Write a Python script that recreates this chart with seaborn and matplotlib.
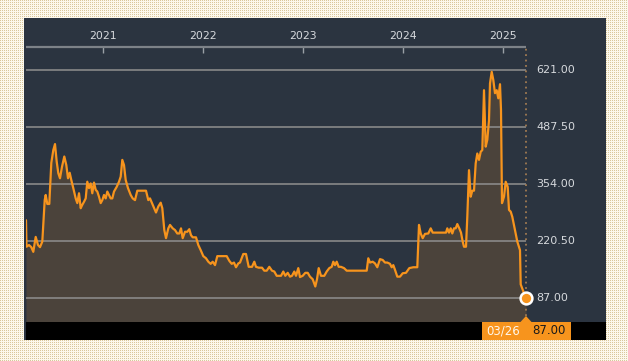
import numpy as np
import pandas as pd
import matplotlib
matplotlib.use("Agg")
import matplotlib.pyplot as plt
import seaborn as sns
from matplotlib.patches import Rectangle, Polygon

# ---------------- data (decimal years, price) ----------------
years = [
    2020.233, 2020.238, 2020.263, 2020.286, 2020.306, 2020.330, 2020.353, 2020.373, 2020.396, 2020.420,
    2020.430, 2020.446, 2020.466, 2020.486, 2020.506, 2020.523, 2020.540, 2020.556, 2020.573, 2020.593,
    2020.616, 2020.636, 2020.653, 2020.670, 2020.686, 2020.706, 2020.730, 2020.746, 2020.763, 2020.780,
    2020.796, 2020.813, 2020.830, 2020.846, 2020.863, 2020.880, 2020.896, 2020.913, 2020.930, 2020.946,
    2020.963, 2020.980, 2020.996, 2021.013, 2021.030, 2021.046, 2021.063, 2021.080, 2021.096, 2021.113,
    2021.140, 2021.163, 2021.180, 2021.196, 2021.213, 2021.230, 2021.253, 2021.280, 2021.300, 2021.323,
    2021.346, 2021.433, 2021.456, 2021.473, 2021.500, 2021.533, 2021.556, 2021.580, 2021.596, 2021.616,
    2021.633, 2021.656, 2021.673, 2021.700, 2021.723, 2021.746, 2021.766, 2021.783, 2021.800, 2021.823,
    2021.846, 2021.866, 2021.883, 2021.900, 2021.933, 2021.956, 2021.980, 2022.006, 2022.033, 2022.056,
    2022.080, 2022.100, 2022.123, 2022.146, 2022.240, 2022.266, 2022.290, 2022.313, 2022.333, 2022.356,
    2022.373, 2022.406, 2022.433, 2022.460, 2022.493, 2022.516, 2022.533, 2022.560, 2022.593, 2022.616,
    2022.640, 2022.666, 2022.693, 2022.716, 2022.740, 2022.783, 2022.806, 2022.826, 2022.850, 2022.873,
    2022.893, 2022.916, 2022.933, 2022.956, 2022.973, 2023.000, 2023.026, 2023.050, 2023.073, 2023.100,
    2023.126, 2023.143, 2023.160, 2023.183, 2023.216, 2023.240, 2023.266, 2023.290, 2023.306, 2023.323,
    2023.340, 2023.360, 2023.383, 2023.413, 2023.440, 2023.640, 2023.656, 2023.673, 2023.700, 2023.723,
    2023.746, 2023.773, 2023.800, 2023.823, 2023.846, 2023.873, 2023.890, 2023.906, 2023.923, 2023.946,
    2023.973, 2024.000, 2024.033, 2024.066, 2024.106, 2024.146, 2024.163, 2024.180, 2024.200, 2024.223,
    2024.256, 2024.280, 2024.300, 2024.433, 2024.446, 2024.463, 2024.480, 2024.496, 2024.513, 2024.530,
    2024.546, 2024.566, 2024.583, 2024.600, 2024.613, 2024.633, 2024.646, 2024.663, 2024.680, 2024.696,
    2024.713, 2024.730, 2024.746, 2024.763, 2024.780, 2024.796, 2024.813, 2024.830, 2024.846, 2024.863,
    2024.873, 2024.890, 2024.906, 2024.923, 2024.940, 2024.956, 2024.973, 2024.983, 2024.993, 2025.013,
    2025.030, 2025.050, 2025.063, 2025.080, 2025.096, 2025.123, 2025.146, 2025.173, 2025.180, 2025.233,
]
prices = [
    270, 208, 212, 207, 196, 231, 212, 207, 220, 317,
    329, 308, 308, 404, 434, 448, 407, 380, 368, 395,
    419, 399, 368, 381, 364, 345, 321, 310, 333, 298,
    306, 313, 321, 360, 345, 356, 333, 358, 341, 337,
    325, 310, 317, 329, 321, 337, 329, 321, 321, 337,
    348, 360, 372, 411, 399, 364, 345, 329, 321, 317,
    339, 339, 317, 321, 306, 288, 302, 311, 298, 247,
    228, 251, 259, 251, 247, 239, 239, 251, 228, 243,
    243, 249, 235, 230, 230, 212, 200, 186, 181, 173,
    168, 173, 165, 186, 186, 175, 168, 171, 160, 169,
    171, 191, 191, 161, 161, 173, 161, 159, 159, 152,
    152, 161, 152, 150, 140, 140, 150, 140, 147, 138,
    140, 150, 140, 158, 137, 140, 147, 147, 138, 132,
    115, 132, 158, 140, 140, 150, 158, 161, 173, 165,
    173, 161, 161, 158, 152, 152, 181, 171, 173, 169,
    160, 179, 177, 171, 171, 168, 160, 165, 154, 138,
    138, 146, 147, 158, 160, 160, 259, 239, 228, 238,
    239, 251, 241, 241, 251, 241, 251, 239, 251, 251,
    261, 251, 241, 220, 208, 208, 278, 387, 325, 339,
    339, 403, 426, 411, 430, 434, 574, 442, 458, 504,
    590, 617, 598, 567, 574, 555, 588, 528, 310, 325,
    360, 348, 294, 290, 278, 247, 220, 200, 120, 87,
]
y_ticks = [87.00, 220.50, 354.00, 487.50, 621.00]
year_ticks = [2021, 2022, 2023, 2024, 2025]
last_date_label = "03/26"
last_value = 87.00

df = pd.DataFrame({"year": years, "price": prices})

# ---------------- styling ----------------
W, H = 628, 361
BG_DOT = np.array([0xd9, 0xc7, 0x9c]) / 255
BG_LIGHT = np.array([0xfc, 0xf8, 0xec]) / 255
PANEL = "#2b3440"
FILL = "#4b433b"
ORANGE = "#f7941d"
GRID = "#8f8f8f"
TXT = "#d6d9dd"

sns.set_theme(style="dark")
plt.rcParams["font.family"] = ["DejaVu Sans"]

fig = plt.figure(figsize=(W / 100, H / 100), dpi=100)
fig.patch.set_facecolor("#f5eedb")

# dotted beige background
pattern = np.ones((H, W, 3)) * BG_LIGHT
pattern[::2, ::2] = BG_DOT
fig.figimage(pattern, xo=0, yo=0, zorder=-5)


def fx(px):
    return px / W


def fy(py):
    return 1 - py / H


# dark panel
fig.patches.append(Rectangle((fx(24), fy(340)), fx(606) - fx(24), fy(18) - fy(340),
                             transform=fig.transFigure, facecolor=PANEL, edgecolor="none", zorder=-2))
# black bottom bar
fig.patches.append(Rectangle((fx(26), fy(340)), fx(606) - fx(26), fy(322) - fy(340),
                             transform=fig.transFigure, facecolor="black", edgecolor="none", zorder=2))

ax = fig.add_axes([fx(26), fy(322), fx(606) - fx(26), fy(47) - fy(322)])
ax.set_facecolor(PANEL)
t0 = years[0]
t_end = years[-1]
ax.set_xlim(t0, t0 + 5.8)
ymin, ymax = 32, 675
ax.set_ylim(ymin, ymax)

ax.fill_between(df["year"], df["price"], ymin, color=FILL, lw=0, zorder=1)
ax.hlines(y_ticks, t0, t_end, colors=GRID, lw=1.3, alpha=0.85, zorder=2)
sns.lineplot(data=df, x="year", y="price", ax=ax, color=ORANGE, lw=1.6, zorder=3)
ax.plot([t_end], [last_value], "o", ms=8.5, mfc=ORANGE, mec="white", mew=1.8, zorder=6, clip_on=False)

# dotted vertical line at last date
ax.vlines(t_end, 46, ymax, colors="#a07a52", linestyles=(0, (1, 2)), lw=1.3, zorder=2)
# top axis line
ax.hlines(ymax - 1, t0, t_end, colors="#7d8288", lw=1.6, zorder=4, clip_on=False)

# right-hand value labels
for v in y_ticks:
    ax.text(t_end + 0.105, v, f"{v:.2f}", color=TXT, fontsize=8, va="center", ha="left", zorder=5)

ax.set_xticks(year_ticks)
ax.set_xticklabels([str(y) for y in year_ticks])
ax.xaxis.tick_top()
ax.tick_params(axis="x", direction="in", length=4, width=1, color="#9aa0a6",
               labelcolor=TXT, labelsize=7.8, pad=4.5, top=True, bottom=False)
ax.set_yticks([])
ax.set_xlabel("")
ax.set_ylabel("")
for s in ax.spines.values():
    s.set_visible(False)
ax.grid(False)

# bottom callout
fig.patches.append(Rectangle((fx(482), fy(340)), fx(571) - fx(482), fy(322) - fy(340),
                             transform=fig.transFigure, facecolor=ORANGE, edgecolor="none", zorder=3))
fig.patches.append(Polygon([(fx(520), fy(322.5)), (fx(532), fy(322.5)), (fx(526), fy(316))],
                           closed=True, transform=fig.transFigure, facecolor=ORANGE,
                           edgecolor="none", zorder=3))
fig.text(fx(503), fy(331), last_date_label, color="#fff6ea", fontsize=8.5, ha="center", va="center", zorder=4)
fig.text(fx(549), fy(331), f"{last_value:.2f}", color="#1a1a1a", fontsize=8.5, ha="center", va="center", zorder=4)

fig.savefig("out.png", dpi=100)
